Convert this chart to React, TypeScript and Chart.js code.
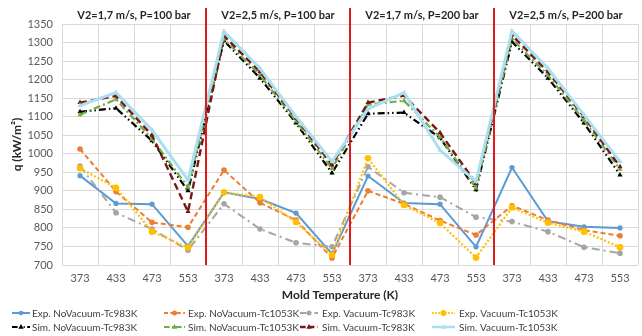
import React, { useEffect, useRef } from "react";
import { Chart, registerables } from "chart.js";

Chart.register(...registerables);

const temps = ["373", "433", "473", "553"];
const categories = [...temps, ...temps, ...temps, ...temps];
const groupTitles = [
  "V2=1,7 m/s, P=100 bar",
  "V2=2,5 m/s, P=100 bar",
  "V2=1,7 m/s, P=200 bar",
  "V2=2,5 m/s, P=200 bar",
];
const yTicksMin = 700;
const yTicksMax = 1350;
const yStep = 50;

const expNoVac983 = [941, 866, 864, 751, 896, 878, 840, 730, 940, 867, 864, 749, 963, 818, 803, 800];
const expNoVac1053 = [1013, 898, 815, 802, 956, 868, 821, 719, 900, 865, 820, 781, 860, 821, 794, 779];
const expVac983 = [967, 841, 797, 740, 865, 797, 760, 749, 965, 895, 883, 829, 817, 790, 748, 732];
const expVac1053 = [961, 908, 790, 747, 896, 883, 816, 727, 988, 862, 813, 720, 855, 814, 790, 748];
const simNoVac983 = [1113, 1123, 1035, 900, 1305, 1204, 1083, 948, 1108, 1111, 1043, 903, 1302, 1204, 1083, 943];
const simNoVac1053 = [1105, 1147, 1040, 910, 1310, 1212, 1088, 960, 1133, 1143, 1045, 908, 1310, 1212, 1090, 958];
const simVac983 = [1138, 1156, 1050, 844, 1318, 1221, 1096, 970, 1138, 1157, 1057, 920, 1320, 1221, 1100, 965];
const simVac1053 = [1130, 1165, 1064, 929, 1330, 1230, 1100, 979, 1121, 1165, 1010, 925, 1331, 1230, 1105, 979];

const FONT = "Lato, 'Noto Sans', sans-serif";

type S = {
  label: string;
  data: number[];
  color: string;
  dash: number[];
  width: number;
  point: "circle" | "triangle";
  radius: number;
};

const series: S[] = [
  { label: "Exp. NoVacuum-Tc983K", data: expNoVac983, color: "#5b9bd5", dash: [], width: 2, point: "circle", radius: 2.6 },
  { label: "Exp. NoVacuum-Tc1053K", data: expNoVac1053, color: "#ed7d31", dash: [5, 3], width: 2, point: "circle", radius: 2.8 },
  { label: "Exp. Vacuum-Tc983K", data: expVac983, color: "#a5a5a5", dash: [8, 4, 2, 4], width: 2, point: "circle", radius: 2.8 },
  { label: "Exp. Vacuum-Tc1053K", data: expVac1053, color: "#ffc000", dash: [2, 2], width: 2.2, point: "circle", radius: 3.3 },
  { label: "Sim. NoVacuum-Tc983K", data: simNoVac983, color: "#000000", dash: [7, 3, 1.5, 3, 1.5, 3], width: 2.2, point: "triangle", radius: 3 },
  { label: "Sim. NoVacuum-Tc1053K", data: simNoVac1053, color: "#70ad47", dash: [7, 3, 2, 3], width: 2.2, point: "triangle", radius: 3 },
  { label: "Sim. Vacuum-Tc983K", data: simVac983, color: "#7b1616", dash: [7, 4], width: 2.4, point: "triangle", radius: 3 },
  { label: "Sim. Vacuum-Tc1053K", data: simVac1053, color: "#a8e0f2", dash: [], width: 3, point: "triangle", radius: 3 },
];

// legend layout: [lineStart, lineEnd, textX] per column, rows y
const legendCols = [
  [12, 30, 32],
  [164, 185, 188],
  [300, 318, 322],
  [432, 455, 459],
];
const legendRows = [313, 327];

function drawMarker(ctx: CanvasRenderingContext2D, s: S, x: number, y: number) {
  ctx.save();
  ctx.setLineDash([]);
  ctx.fillStyle = s.color;
  ctx.beginPath();
  if (s.point === "circle") {
    ctx.arc(x, y, s.radius - 0.3, 0, Math.PI * 2);
  } else {
    const r = s.radius;
    ctx.moveTo(x, y - r);
    ctx.lineTo(x + r * 0.9, y + r * 0.6);
    ctx.lineTo(x - r * 0.9, y + r * 0.6);
    ctx.closePath();
  }
  ctx.fill();
  ctx.restore();
}

const decorPlugin = {
  id: "decor",
  afterDatasetsDraw(chart: any) {
    const ctx: CanvasRenderingContext2D = chart.ctx;
    const xs = chart.scales.x;
    const area = chart.chartArea;
    const step = xs.getPixelForValue(1) - xs.getPixelForValue(0);
    ctx.save();
    // red separators
    ctx.strokeStyle = "#e0191b";
    ctx.lineWidth = 2;
    for (let g = 1; g < 4; g++) {
      const x = Math.round(xs.getPixelForValue(g * 4 - 1) + step / 2);
      ctx.beginPath();
      ctx.moveTo(x, 8);
      ctx.lineTo(x, area.bottom);
      ctx.stroke();
    }
    // group titles
    ctx.fillStyle = "#262626";
    ctx.font = `bold 11px ${FONT}`;
    ctx.textAlign = "center";
    ctx.textBaseline = "middle";
    for (let g = 0; g < 4; g++) {
      const x0 = xs.getPixelForValue(g * 4) - step / 2;
      const x1 = xs.getPixelForValue(g * 4 + 3) + step / 2;
      ctx.fillText(groupTitles[g], (x0 + x1) / 2, 15);
    }
    // x title
    ctx.font = `bold 12px ${FONT}`;
    ctx.fillStyle = "#262626";
    ctx.fillText("Mold Temperature (K)", 340, 295);
    // legend
    ctx.font = `10px ${FONT}`;
    ctx.textAlign = "left";
    series.forEach((s, i) => {
      const row = Math.floor(i / 4);
      const col = i % 4;
      const [l0, l1, tx] = legendCols[col];
      const y = legendRows[row];
      ctx.save();
      ctx.strokeStyle = s.color;
      ctx.lineWidth = Math.min(s.width, 2.5);
      ctx.setLineDash(s.dash.length ? s.dash.map((d) => d * 0.8) : []);
      ctx.beginPath();
      ctx.moveTo(l0, y);
      ctx.lineTo(l1, y);
      ctx.stroke();
      ctx.restore();
      drawMarker(ctx, s, (l0 + l1) / 2, y);
      ctx.fillStyle = "#404040";
      ctx.fillText(s.label, tx, y + 0.5);
    });
    ctx.restore();
  },
};

export default function App() {
  const ref = useRef<HTMLCanvasElement>(null);
  useEffect(() => {
    document.body.style.margin = "0";
    const canvas = ref.current!;
    const chart = new Chart(canvas, {
      type: "line",
      data: {
        labels: categories,
        datasets: series.map((s, i) => ({
          label: s.label,
          data: s.data,
          borderColor: s.color,
          backgroundColor: s.color,
          borderWidth: s.width,
          borderDash: s.dash,
          pointStyle: s.point,
          pointRadius: s.radius,
          pointBorderWidth: 0,
          pointBackgroundColor: s.color,
          fill: false,
          tension: 0,
          order: series.length - i,
        })),
      },
      options: {
        responsive: false,
        animation: false,
        devicePixelRatio: 1,
        layout: { padding: { top: 24, right: 4, left: 0, bottom: 0 } },
        plugins: {
          legend: { display: false },
          tooltip: { enabled: false },
        },
        scales: {
          x: {
            type: "category",
            offset: true,
            grid: { color: "#d9d9d9", drawTicks: false, offset: true },
            border: { display: false },
            ticks: {
              color: "#595959",
              font: { family: FONT, size: 11 },
              padding: 7,
              autoSkip: false,
              maxRotation: 0,
            },
            afterFit: (s: any) => {
              s.height = 71;
            },
          },
          y: {
            min: yTicksMin,
            max: yTicksMax,
            grid: { color: "#d9d9d9", drawTicks: false },
            border: { display: false },
            ticks: {
              stepSize: yStep,
              color: "#595959",
              font: { family: FONT, size: 11 },
              padding: 9,
              callback: (v: any) => String(v),
            },
            title: {
              display: true,
              text: "q (kW/m²)",
              color: "#262626",
              font: { family: FONT, size: 12, weight: "bold" },
              padding: { top: 10, bottom: 0 },
            },
            afterFit: (s: any) => {
              s.width = 62;
            },
          },
        },
      },
      plugins: [decorPlugin],
    } as any);
    return () => chart.destroy();
  }, []);
  return (
    <div style={{ width: 642, height: 336 }}>
      <canvas ref={ref} width={642} height={336} />
    </div>
  );
}
